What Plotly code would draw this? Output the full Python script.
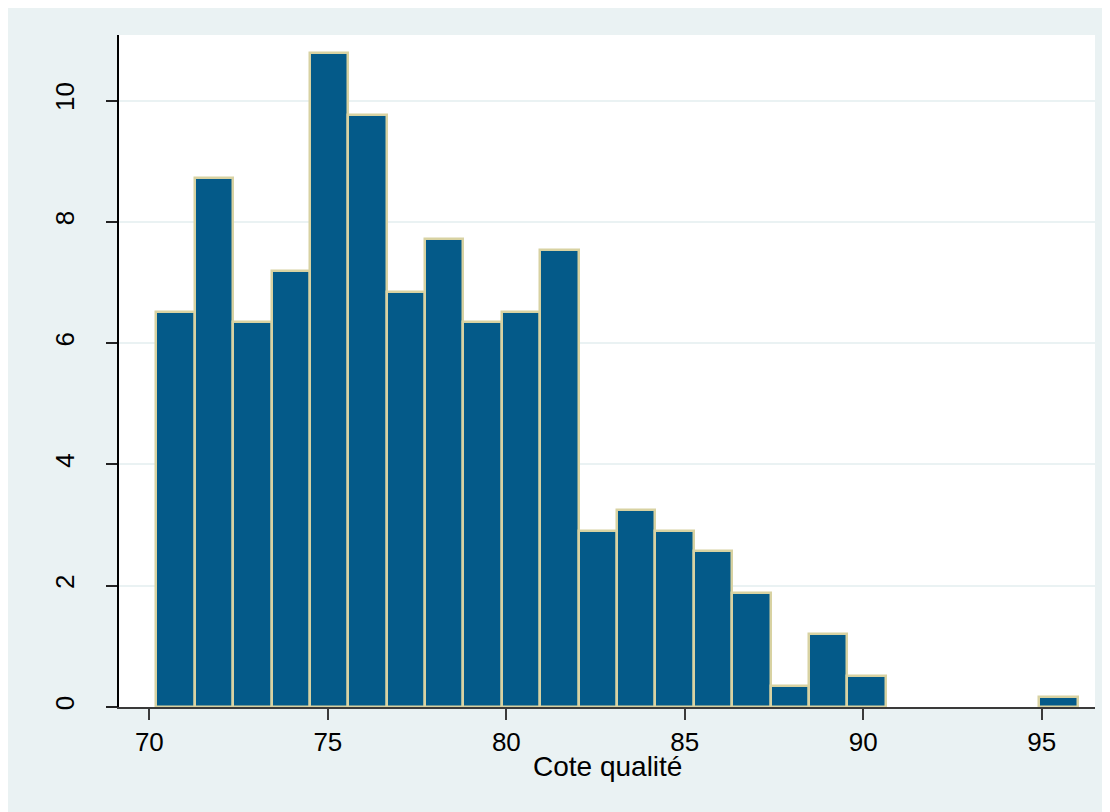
import plotly.graph_objects as go

# Histogram data (percent per bin)
bin_start = 70.2
bin_width = 1.075
percent = [6.51, 8.73, 6.34, 7.19, 10.79, 9.76, 6.85, 7.71, 6.34, 6.51, 7.53,
           2.91, 3.25, 2.91, 2.57, 1.88, 0.34, 1.20, 0.51, 0.0, 0.0, 0.0, 0.0, 0.17]
x_ticks = [70, 75, 80, 85, 90, 95]
y_ticks = [0, 2, 4, 6, 8, 10]
x_title = "Cote qualité"

centers = [bin_start + bin_width * (i + 0.5) for i in range(len(percent))]
line_widths = [2.5 if v > 0 else 0 for v in percent]

FONT = "Arial, 'Liberation Sans', sans-serif"
BG = "#eaf2f3"

fig = go.Figure(go.Bar(
    x=centers, y=percent, width=[bin_width] * len(percent),
    marker=dict(color="#045a89", line=dict(color="#d8d2a2", width=line_widths)),
    hoverinfo="skip",
))

H = 804
T, B = 27, 105
plot_h = H - T - B

fig.update_layout(
    width=1102, height=H,
    margin=dict(l=111, r=15, t=T, b=B),
    paper_bgcolor=BG, plot_bgcolor="white",
    showlegend=False,
    font=dict(family=FONT, size=26, color="black"),
    bargap=0,
    annotations=[dict(
        text=x_title, xref="paper", yref="paper", x=0.5, y=-60 / plot_h,
        xanchor="center", yanchor="middle", showarrow=False,
        font=dict(size=28, family=FONT, color="black"),
    )],
)
fig.update_xaxes(
    range=[69.15, 96.49], tickvals=x_ticks, ticktext=[str(v) for v in x_ticks],
    showgrid=False, zeroline=False,
    showline=True, linecolor="#3a3a3a", linewidth=2,
    ticks="outside", ticklen=11, tickwidth=2, tickcolor="#3a3a3a",
    tickfont=dict(size=26, family=FONT, color="black"),
)
fig.update_yaxes(
    range=[0, 11.08], tickvals=y_ticks, ticktext=[str(v) for v in y_ticks],
    showgrid=True, gridcolor=BG, gridwidth=2, zeroline=False,
    showline=True, linecolor="black", linewidth=2,
    ticks="outside", ticklen=11, tickwidth=2, tickcolor="#222",
    tickangle=-90, ticklabelstandoff=22,
    tickfont=dict(size=26, family=FONT, color="black"),
)

fig.write_html("out.html")
